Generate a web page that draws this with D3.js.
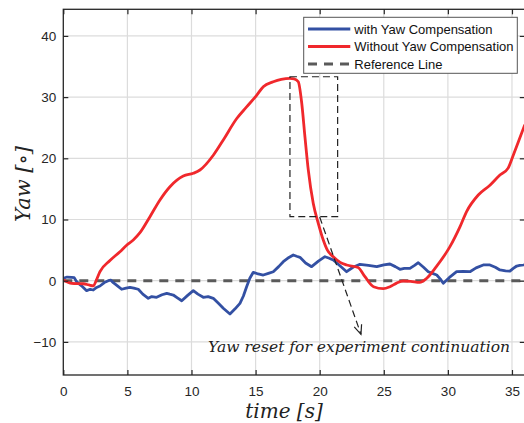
<!DOCTYPE html>
<html><head><meta charset="utf-8">
<script src="https://cdn.jsdelivr.net/npm/d3@7"></script>
<style>
body{margin:0;background:#fff;}
svg{display:block;}
</style></head>
<body>
<svg id="chart" width="524" height="423"></svg>
<script>
const xTicks = [0,5,10,15,20,25,30,35];
const yTicks = [-10,0,10,20,30,40];
const seriesNames = ["with Yaw Compensation","Without Yaw Compensation","Reference Line"];

const timeBlue = [0,0.3,0.65,0.85,1.04,1.4,1.82,2.1,2.34,2.6,2.86,3.2,3.51,3.7,3.9,4.2,4.55,4.9,5.2,5.5,5.85,6.2,6.63,6.9,7.28,7.7,8.07,8.3,8.58,8.9,9.24,9.7,10.14,10.5,10.92,11.3,11.7,12.1,12.48,12.75,13.0,13.4,13.78,14.05,14.3,14.55,14.82,15.2,15.6,16.0,16.38,16.8,17.16,17.6,17.94,18.2,18.46,18.9,19.37,19.9,20.41,20.7,21.06,21.6,22.1,22.6,23.14,23.8,24.45,25.0,25.48,25.9,26.26,26.6,27.04,27.4,27.69,28.1,28.47,28.8,29.13,29.4,29.64,30.1,30.68,31.2,31.72,32.2,32.76,33.28,33.7,34.06,34.5,34.84,35.1,35.37,35.6,35.9,36];
const yawBlue  = [0.4,0.6,0.55,0.5,-0.16,-0.8,-1.63,-1.4,-1.52,-1.1,-0.87,-0.3,0,0.1,-0.33,-0.8,-1.4,-1.2,-1.08,-1.2,-1.4,-2.2,-2.88,-2.6,-2.71,-2.3,-2.06,-2.2,-2.34,-2.8,-3.27,-2.4,-1.63,-2.2,-2.71,-2.6,-2.88,-3.7,-4.51,-5.0,-5.44,-4.6,-3.7,-2.5,-0.98,0.4,1.37,1.1,0.93,1.2,1.47,2.3,3.1,3.8,4.2,4.0,3.82,2.9,2.29,3.2,3.92,3.7,3.38,2.4,1.47,2.2,2.68,2.5,2.29,2.6,2.73,2.3,1.86,2.0,2.02,2.5,2.94,2.2,1.47,1.2,0.93,0.3,-0.43,0.5,1.47,1.5,1.47,2.1,2.57,2.57,2.2,1.75,1.6,1.58,2.0,2.4,2.5,2.57,2.6];

const timeRed = [0,0.65,1.56,2.0,2.34,2.6,2.86,3.64,4.42,4.94,5.46,5.98,6.76,7.54,8.32,9.36,10.14,10.66,11.7,12.48,13.53,14.3,15.08,15.6,16.38,17.0,17.68,18.0,18.33,18.6,18.85,19.11,19.5,19.89,20.28,20.6,21.06,21.6,22.1,23.0,23.53,24.2,24.96,25.48,26.0,26.5,27.1,27.8,28.35,29.1,30.16,30.94,31.46,32.37,33.28,34.06,34.7,35.1,35.5,36];
const yawRed  = [0.1,-0.43,-0.5,-0.7,-0.85,0.2,1.47,3.3,4.74,5.8,6.65,7.84,10.46,13.2,15.36,17.1,17.55,18.09,20.5,23.0,26.5,28.4,30.3,31.7,32.5,32.9,33.07,33.0,32.5,29.0,23.5,18.1,12.6,9.38,6.65,5.0,3.92,3.0,2.57,2.15,0.65,-0.98,-1.3,-0.98,-0.4,-0.05,-0.1,-0.27,0.4,2.3,5.56,8.8,11.3,14.0,15.6,17.27,18.4,20.5,22.7,25.5];

const zoomBox = {x0:17.68, x1:21.4, y0:10.46, y1:33.33};
const arrowFrom = [20.0, 10.4], arrowTo = [23.22, -8.76];
const annotation = "Yaw reset for experiment continuation";

const svg = d3.select("#chart");
const L = 63.3, R = 524.8, T = 9.3, B = 375;
const x = d3.scaleLinear().domain([0,36]).range([L,R]);
const y = d3.scaleLinear().domain([-15.41,44.35]).range([B,T]);

// grid
const g = svg.append("g");
g.selectAll(".gx").data(xTicks.filter(d=>d>0)).enter().append("line")
  .attr("x1",d=>x(d)).attr("x2",d=>x(d)).attr("y1",T).attr("y2",B)
  .attr("stroke","#dcdcdc").attr("stroke-width",1.2);
g.selectAll(".gy").data(yTicks).enter().append("line")
  .attr("x1",L).attr("x2",R).attr("y1",d=>y(d)).attr("y2",d=>y(d))
  .attr("stroke","#dcdcdc").attr("stroke-width",1.2);

// clip
svg.append("clipPath").attr("id","clip").append("rect")
  .attr("x",L).attr("y",T).attr("width",R-L).attr("height",B-T);
const plot = svg.append("g").attr("clip-path","url(#clip)");

// reference line
plot.append("line").attr("x1",x(0)).attr("x2",x(36)).attr("y1",y(0)).attr("y2",y(0))
  .attr("stroke","#5a5a5a").attr("stroke-width",3).attr("stroke-dasharray","9,7");

const line = d3.line().x(d=>x(d[0])).y(d=>y(d[1]));
plot.append("path").datum(timeBlue.map((t,i)=>[t,yawBlue[i]]))
  .attr("d",line).attr("fill","none").attr("stroke","#3350a3").attr("stroke-width",2.8).attr("stroke-linejoin","round");
plot.append("path").datum(timeRed.map((t,i)=>[t,yawRed[i]]))
  .attr("d",line.curve(d3.curveMonotoneX)).attr("fill","none").attr("stroke","#f0282c").attr("stroke-width",2.8).attr("stroke-linejoin","round");

// zoom box
svg.append("rect").attr("x",x(zoomBox.x0)).attr("y",y(zoomBox.y1))
  .attr("width",x(zoomBox.x1)-x(zoomBox.x0)).attr("height",y(zoomBox.y0)-y(zoomBox.y1))
  .attr("fill","none").attr("stroke","#222").attr("stroke-width",1.2).attr("stroke-dasharray","7,4");

// arrow
const ax0=x(arrowFrom[0]), ay0=y(arrowFrom[1]), ax1=x(arrowTo[0]), ay1=y(arrowTo[1]);
svg.append("line").attr("x1",ax0).attr("y1",ay0).attr("x2",ax1).attr("y2",ay1)
  .attr("stroke","#222").attr("stroke-width",1.2).attr("stroke-dasharray","7,4");
const ang = Math.atan2(ay1-ay0, ax1-ax0), hl=10, ha=0.4;
svg.append("path").attr("d",`M${ax1-hl*Math.cos(ang-ha)},${ay1-hl*Math.sin(ang-ha)}L${ax1},${ay1}L${ax1-hl*Math.cos(ang+ha)},${ay1-hl*Math.sin(ang+ha)}`)
  .attr("fill","none").attr("stroke","#222").attr("stroke-width",1.2);

// annotation
svg.append("text").attr("x",208).attr("y",352).text(annotation)
  .attr("font-family","'DejaVu Serif',serif").attr("font-style","italic").attr("font-size",14)
  .attr("fill","#222").attr("textLength",302).attr("lengthAdjust","spacingAndGlyphs");

// axes box
svg.append("rect").attr("x",L).attr("y",T).attr("width",R-L).attr("height",B-T)
  .attr("fill","none").attr("stroke","#262626").attr("stroke-width",1.3);

const tickLen = 5;
const axB = svg.append("g").attr("transform",`translate(0,${B})`)
  .call(d3.axisBottom(x).tickValues(xTicks).tickSizeInner(-tickLen).tickSizeOuter(0).tickPadding(11));
const axT = svg.append("g").attr("transform",`translate(0,${T})`)
  .call(d3.axisTop(x).tickValues(xTicks).tickSizeInner(-tickLen).tickSizeOuter(0).tickFormat(""));
const axL = svg.append("g").attr("transform",`translate(${L},0)`)
  .call(d3.axisLeft(y).tickValues(yTicks).tickSizeInner(-tickLen).tickSizeOuter(0).tickPadding(7));
const axR = svg.append("g").attr("transform",`translate(${R},0)`)
  .call(d3.axisRight(y).tickValues(yTicks).tickSizeInner(-tickLen).tickSizeOuter(0).tickFormat(""));
[axB,axT,axL,axR].forEach(a=>{
  a.select(".domain").remove();
  a.selectAll("line").attr("stroke","#262626").attr("stroke-width",1.2);
  a.selectAll("text").attr("font-family","'Liberation Sans',Arial,sans-serif").attr("font-size",13.5).attr("fill","#262626");
});
axB.selectAll("text").attr("dy","0.71em");

// axis labels
svg.append("text").attr("x",284).attr("y",418).attr("text-anchor","middle")
  .attr("font-family","'DejaVu Serif',serif").attr("font-style","italic").attr("font-size",20).attr("fill","#222")
  .text("time [s]");
svg.append("text").attr("transform","translate(30,184) rotate(-90)").attr("text-anchor","middle")
  .attr("font-family","'DejaVu Serif',serif").attr("font-style","italic").attr("font-size",21).attr("fill","#222")
  .text("Yaw [∘]");

// legend
const lg = svg.append("g");
lg.append("rect").attr("x",303.7).attr("y",17.3).attr("width",213.6).attr("height",56)
  .attr("fill","#fff").attr("stroke","#555").attr("stroke-width",1);
const legItems = [
  {name:seriesNames[0], color:"#3350a3", dash:null, w:2.8},
  {name:seriesNames[1], color:"#f0282c", dash:null, w:2.8},
  {name:seriesNames[2], color:"#5a5a5a", dash:"9,7", w:3}
];
legItems.forEach((d,i)=>{
  const yy = 29 + i*17.5;
  lg.append("line").attr("x1",308).attr("x2",350.3).attr("y1",yy).attr("y2",yy)
    .attr("stroke",d.color).attr("stroke-width",d.w).attr("stroke-dasharray",d.dash);
  lg.append("text").attr("x",354.3).attr("y",yy).attr("dy","0.35em").text(d.name)
    .attr("font-family","'Liberation Sans',Arial,sans-serif").attr("font-size",13).attr("fill","#111");
});
</script>
</body></html>
